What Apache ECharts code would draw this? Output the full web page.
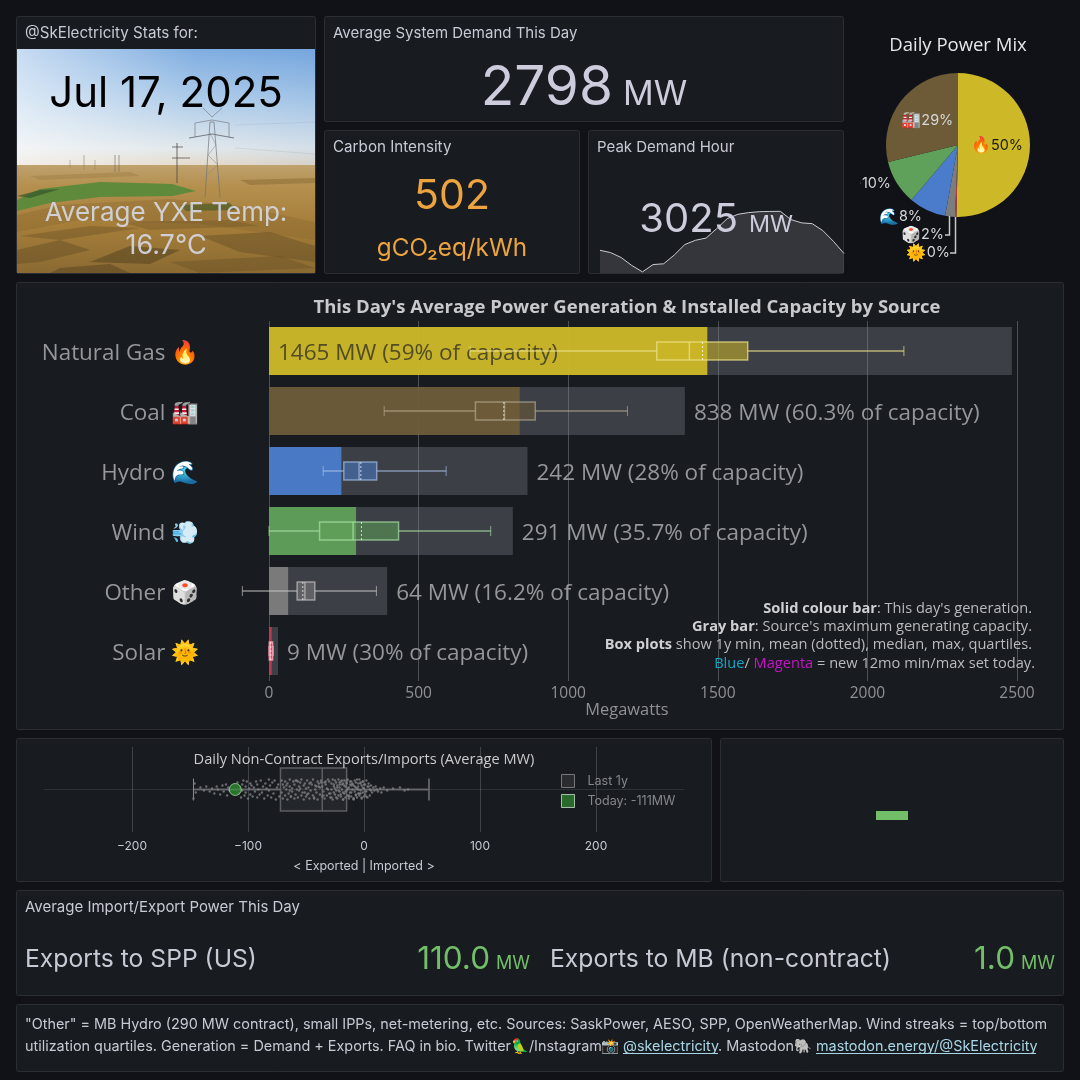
<!DOCTYPE html>
<html>
<head>
<meta charset="utf-8">
<title>SkElectricity daily stats</title>
<script src="https://cdn.jsdelivr.net/npm/echarts@6/dist/echarts.min.js"></script>
<style>
html, body { margin: 0; padding: 0; background: #111217; }
#chart { width: 1080px; height: 1080px; }
</style>
</head>
<body>
<div id="chart"></div>
<script>
// generation panel
var sources = ['Natural Gas', 'Coal', 'Hydro', 'Wind', 'Other', 'Solar'];
var sourceEmoji = ['🔥', '🏭', '🌊', '💨', '🎲', '🌞'];
var generationMw = [1465, 838, 242, 291, 64, 9];
var capacityMw = [2483, 1390, 864, 815, 395, 30];
var capacityPct = ['59', '60.3', '28', '35.7', '16.2', '30'];
var boxMin = [672, 385, 181, 0, -89, 0];
var boxQ1 = [1296, 690, 250, 169, 94, 1];
var boxMedian = [1405, 787, 301, 281, 120, 5];
var boxMean = [1449, 785, 307, 309, 113, 6];
var boxQ3 = [1600, 890, 360, 433, 153, 12];
var boxMax = [2122, 1198, 592, 741, 359, 14];
var genTicks = [0, 500, 1000, 1500, 2000, 2500];

// pie order, clockwise from the top
var pieOrder = [0, 5, 4, 2, 3, 1];

// peak demand sparkline, one value per hour
var demandHours = ['00', '01', '02', '03', '04', '05', '06', '07', '08', '09', '10', '11', '12', '13', '14', '15', '16', '17', '18', '19', '20', '21', '22', '23'];
var demandMw = [2687, 2667, 2624, 2555, 2500, 2563, 2570, 2646, 2737, 2774, 2793, 2875, 2962, 2999, 3014, 3022, 3024, 3025, 2953, 2925, 2918, 2858, 2765, 2659];

// non-contract exports / imports, last year of days
var stripBox = [-147, -72, -36, -15, 56];
var todayMw = -111;
var stripMw = [-147, -146, -145, -141, -138, -136, -133, -131, -129, -127, -126, -124, -122, -121, -119, -118, -117, -116,
    -109, -108, -107, -106, -105, -105, -104, -103, -102, -102, -101, -100, -99, -98, -98, -97, -96, -95, -94, -93, -92, -92, -91, -90, -89, -88, -87, -86, -85, -84, -83, -82, -82, -81, -80, -79, -78, -77, -76, -75, -74, -73,
    -71, -71, -70, -70, -69, -68, -68, -67, -66, -66, -65, -64, -64, -63, -62, -62, -61, -60, -60, -59, -58, -58, -57, -56, -56, -55, -54, -54, -53, -52, -52, -51, -50, -50, -49, -48, -48, -47, -46, -46, -45, -44, -44, -43, -42, -42, -41, -40, -40, -39, -38, -38, -37, -36, -36, -35, -34, -34, -33, -32, -32, -31, -30, -30, -29, -28, -28, -27, -26, -26, -25, -25, -24, -24, -23, -23, -22, -22, -21, -21, -20, -20, -19, -19, -18, -18, -17, -17, -16, -16, -15, -15,
    -14, -14, -13, -13, -12, -12, -11, -11, -10, -10, -9, -9, -8, -8, -7, -7, -6, -6, -5, -5, -4, -4, -3, -3, -2, -2, -1, -1, 0, 0, 1, 1, 2, 2, 3, 3, 4, 5, 5, 6, 7, 8, 9, 10, 11, 12, 14, 15, 17, 20, 25, 31, 35, 38,
    -67, -63, -59, -55, -51, -47, -43, -39, -35, -33, -31, -29, -27, -26, -24, -23, -22, -21, -20, -19, -18, -17, -16, -15, -14, -13, -12, -11, -10, -9, -8, -7, -6, -5, -4, -3, -2, -1, 0, 1,
    -64, -57, -49, -41, -37, -28, -25, -21, -18, -15, -13, -11, -9, -7, -5, -3, -1, 2, 4, 6];
var stripJitter = [-9, 6, -3, 2, -1, 3, -2, 1, -4, 3, 0, -5, 4, -2, 5, -6, 2, -1,
    7, -4, 2, -8, 5, -1, 9, -6, 3, -3, 8, -9, 1, 6, -5, 4, -7, 2, -2, 8, -8, 5, 0, -5, 9, -3, 3, -9, 6, 1, -6, 10, -1, 4, -8, 7, -4, 9, -10, 2, 5, -7,
    -3, 9, 5, -9, 2, -6, 8, 0, -10, 6, -4, 3, 10, -7, 1, -2, 8, -9, 5, -5, 0, 9, -8, 3, -1, 7, -6, 10, -3, 4, -10, 6, 1, -7, 9, -4, 2, -9, 7, -1, 5, -6, 10, -8, 0, 4, -3, 8, -10, 6, -5, 2, 9, -7, 3, -2, 7, -9, 5, 1, -6, 10, -4, 8, -8, 0, 6, -10, 3, -3, 9, -5, 7, -1, 4, -9, 10, -6, 2, -2, 8, -7, 5, 0, -10, 6, -4, 9, -8, 3, -1, 7,
    -6, 10, 2, -9, 5, -3, 8, -7, 0, 6, -10, 4, -2, 9, -5, 7, 1, -8, 3, -4, 10, -6, 6, -1, -9, 4, 8, -3, 1, -7, 5, -5, 9, -2, 3, -8, 6, 0, -6, 4, -3, 2, -1, 3, 0, -2, 1, -3, 2, -1, 1, 2, -1, 0,
    4, -7, 9, 1, -3, 6, -9, 3, -6, 8, 0, -4, 10, 5, -8, 2, -1, 7, -5, 9, -10, 4, -2, 6, 1, -7, 8, -3, 5, -9, 3, -6, 10, 0, -4, 7, -8, 2, 5, -2,
    -1, 8, -5, 3, 7, -8, 1, 5, -3, 9, -6, 4, -9, 2, 6, -4, 8, -7, 3, -1];

// colours per source
var sourceColors = ['#cdb827', '#6d5b38', '#4a7ccb', '#5fa05a', '#7d7d7d', '#c2394e'];
var boxStrokes = ['rgba(238,226,140,.7)', 'rgba(190,180,155,.6)', 'rgba(170,195,235,.65)', 'rgba(175,230,170,.65)', 'rgba(200,200,200,.65)', 'rgba(255,165,185,.85)'];

var uiFont = 'Inter, "Noto Color Emoji", sans-serif';
var chartFont = '"Open Sans", "Noto Color Emoji", sans-serif';
var textColor = '#c7c9d4';

function panel(x, y, w, h) {
    return {
        type: 'rect', z: -5, silent: true,
        shape: { x: x + 0.5, y: y + 0.5, width: w - 1, height: h - 1, r: 2 },
        style: { fill: '#181b1f', stroke: '#2b2e34', lineWidth: 1 }
    };
}

function txt(x, y, text, size, color, align, family, extra) {
    var style = {
        x: x, y: y, text: text, fill: color,
        font: size + 'px ' + (family || uiFont),
        align: align || 'left', verticalAlign: 'middle'
    };
    for (var k in extra || {}) {
        style[k] = extra[k];
    }
    return { type: 'text', z: 20, silent: true, style: style };
}

function poly(z, points, stroke, width) {
    return {
        type: 'polyline', z: z, silent: true,
        shape: { points: points },
        style: { stroke: stroke, lineWidth: width, fill: null }
    };
}

function shape(points, fill, opacity) {
    return {
        type: 'polygon', z: -4, silent: true,
        shape: { points: points },
        style: { fill: fill, opacity: opacity === undefined ? 1 : opacity }
    };
}

// the photo behind the date is only painted roughly
function photo() {
    var LG = echarts.graphic.LinearGradient;
    var els = [
        {
            type: 'rect', z: -4, silent: true,
            shape: { x: 17, y: 49, width: 298, height: 117 },
            style: { fill: new LG(0, 0, 0, 1, [{ offset: 0, color: '#74a6de' }, { offset: 0.45, color: '#a9c9e8' }, { offset: 0.85, color: '#dfe6ea' }, { offset: 1, color: '#e2d6c4' }]) }
        },
        {
            type: 'rect', z: -4, silent: true,
            shape: { x: 17, y: 49, width: 298, height: 117 },
            style: { fill: new LG(0, 0, 1, 0, [{ offset: 0, color: 'rgba(255,255,255,.6)' }, { offset: 0.6, color: 'rgba(255,255,255,.08)' }, { offset: 1, color: 'rgba(120,160,220,.1)' }]) }
        },
        {
            type: 'rect', z: -4, silent: true,
            shape: { x: 17, y: 165, width: 298, height: 108 },
            style: { fill: new LG(0, 0, 0, 1, [{ offset: 0, color: '#bfa26e' }, { offset: 0.2, color: '#b48f4e' }, { offset: 0.55, color: '#a67e3a' }, { offset: 1, color: '#8a6a32' }]) }
        },
        shape([[17, 200], [40, 189], [100, 182], [172, 184], [196, 191], [172, 196], [100, 197], [50, 203], [17, 211]], '#5f8a3c'),
        shape([[17, 196], [40, 190], [60, 189], [30, 198]], '#35552a', 0.7),
        shape([[17, 215], [60, 205], [170, 199], [240, 206], [315, 222], [315, 240], [200, 224], [80, 220], [17, 232]], '#8a6a30', 0.4),
        shape([[90, 262], [130, 246], [180, 250], [150, 264]], '#4f3f1e', 0.5),
        shape([[200, 236], [270, 232], [315, 246], [315, 262], [240, 252]], '#5d4822', 0.4),
        shape([[17, 250], [60, 240], [90, 250], [40, 262], [17, 264]], '#5d4822', 0.4),
        shape([[180, 205], [230, 203], [236, 210], [186, 211]], '#4d5d28', 0.7),
        shape([[20, 236], [90, 226], [140, 228], [60, 240]], '#6a5126', 0.4),
        shape([[120, 222], [230, 220], [260, 226], [150, 230]], '#6a5126', 0.35),
        shape([[170, 262], [280, 256], [315, 268], [200, 273]], '#6a5126', 0.45),
        shape([[60, 268], [110, 264], [130, 273], [50, 273]], '#4f3f1e', 0.45),
        shape([[240, 180], [315, 178], [315, 183], [250, 185]], '#8f7238', 0.6),
        shape([[30, 176], [130, 172], [140, 176], [40, 180]], '#9d7f45', 0.5),
        // main tower
        poly(-4, [[205, 197], [210, 122], [214, 122], [220, 197]], 'rgba(110,113,122,.85)', 0.8),
        poly(-4, [[207, 175], [218, 165], [208, 155], [216, 145], [210, 133]], 'rgba(120,123,132,.75)', 0.6),
        poly(-4, [[195, 137], [195, 123], [212, 120], [229, 123], [229, 137]], 'rgba(125,128,138,.9)', 0.8),
        poly(-4, [[203, 108], [212, 117], [222, 108]], 'rgba(125,128,138,.9)', 0.8),
        poly(-4, [[189, 138], [212, 134], [234, 138]], 'rgba(95,98,106,.9)', 0.9),
        poly(-4, [[235, 125], [315, 122]], 'rgba(120,125,135,.25)', 0.5),
        poly(-4, [[235, 148], [315, 154]], 'rgba(120,125,135,.3)', 0.5),
        // wood poles in the distance
        poly(-4, [[177, 143], [177, 183]], 'rgba(80,72,64,.9)', 0.9),
        poly(-4, [[172, 147], [183, 147]], 'rgba(80,72,64,.9)', 0.8),
        poly(-4, [[172, 158], [190, 158]], 'rgba(80,72,64,.9)', 0.8),
        poly(-4, [[115, 155], [115, 172]], 'rgba(120,110,95,.8)', 0.8),
        poly(-4, [[119, 155], [119, 172]], 'rgba(120,110,95,.8)', 0.8),
        poly(-4, [[84, 155], [84, 170]], 'rgba(135,125,110,.7)', 0.8),
        poly(-4, [[95, 160], [95, 170]], 'rgba(135,125,110,.7)', 0.7),
        poly(-4, [[70, 160], [70, 168]], 'rgba(135,125,110,.7)', 0.7)
    ];
    return els;
}

var boldRich = { b: { fontFamily: 'Open Sans', fontWeight: 'bold', fontSize: 14.6, fill: '#cfd0d3' } };

var graphicEls = [
    panel(16, 16, 300, 258),
    panel(324, 16, 520, 106),
    panel(324, 130, 256, 144),
    panel(588, 130, 256, 144),
    panel(16, 282, 1048, 448),
    panel(16, 738, 696, 144),
    panel(720, 738, 344, 144),
    panel(16, 890, 1048, 106),
    panel(16, 1004, 1048, 68)
].concat(photo()).concat([
    // the small lone bar in the empty panel
    { type: 'rect', z: 5, silent: true, shape: { x: 876, y: 811, width: 32, height: 9 }, style: { fill: '#73bf69' } },

    txt(25, 33.5, '@SkElectricity Stats for:', 15.2, textColor),
    txt(333, 33.5, 'Average System Demand This Day', 15, textColor),
    txt(333, 147.5, 'Carbon Intensity', 15.2, textColor),
    txt(597, 147.5, 'Peak Demand Hour', 15, textColor),
    txt(25, 907.5, 'Average Import/Export Power This Day', 15, textColor),

    txt(166, 94, 'Jul 17, 2025', 42, '#000000', 'center'),
    txt(166, 213, 'Average YXE Temp:', 26, 'rgba(214,216,228,.9)', 'center'),
    txt(166, 246, '16.7°C', 27, 'rgba(214,216,228,.9)', 'center'),

    txt(613, 88, '2798', 55, '#ccccdc', 'right'),
    txt(623, 95, 'MW', 34, '#ccccdc'),
    txt(452, 197, '502', 41, '#eda33f', 'center'),
    txt(452, 249, 'gCO₂eq/kWh', 24.3, '#eda33f', 'center'),
    txt(738, 220, '3025', 40, '#ccccdc', 'right'),
    txt(749, 225, 'MW', 23.3, '#ccccdc'),

    txt(25, 960, 'Exports to SPP (US)', 24.7, textColor),
    txt(490, 960, '110.0', 31.5, '#73bf69', 'right'),
    txt(496, 964, 'MW', 18, '#73bf69'),
    txt(550, 960, 'Exports to MB (non-contract)', 24.7, textColor),
    txt(1015, 960, '1.0', 31.5, '#73bf69', 'right'),
    txt(1021, 964, 'MW', 18, '#73bf69'),

    txt(25, 1025, '"Other" = MB Hydro (290 MW contract), small IPPs, net-metering, etc. Sources: SaskPower, AESO, SPP, OpenWeatherMap. Wind streaks = top/bottom', 14.4, textColor),
    txt(25, 1047, 'utilization quartiles. Generation = Demand + Exports. FAQ in bio. Twitter🦜/Instagram📸', 14.4, textColor),
    txt(623, 1047, '@skelectricity', 14.4, '#a9d6e5'),
    txt(718, 1047, '. Mastodon🐘', 14.4, textColor),
    txt(816, 1047, 'mastodon.energy/@SkElectricity', 14.4, '#a9d6e5'),
    poly(20, [[623, 1053.5], [718, 1053.5]], '#a9d6e5', 1),
    poly(20, [[816, 1053.5], [1036, 1053.5]], '#a9d6e5', 1),

    // key under the bars
    txt(1032, 609, '{b|Solid colour bar}: This day\'s generation.', 14.6, '#b9babd', 'right', chartFont, { rich: boldRich }),
    txt(1032, 627, '{b|Gray bar}: Source\'s maximum generating capacity.', 14.6, '#b9babd', 'right', chartFont, { rich: boldRich }),
    txt(1032, 645, '{b|Box plots} show 1y min, mean (dotted), median, max, quartiles.', 14.6, '#b9babd', 'right', chartFont, { rich: boldRich }),
    txt(1035, 664, '{c|Blue}/ {m|Magenta} = new 12mo min/max set today.', 14.6, '#b9babd', 'right', chartFont, { rich: { c: { fontFamily: 'Open Sans', fontSize: 14.6, fill: '#17a5c6' }, m: { fontFamily: 'Open Sans', fontSize: 14.6, fill: '#c514c5' } } }),
    txt(627, 710, 'Megawatts', 16.4, '#8f9195', 'center', chartFont),
    txt(364, 866, '< Exported | Imported >', 12.5, textColor, 'center'),

    // pie leader lines, and the page edge that cuts the wind label
    poly(20, [[949.5, 216], [949.5, 235], [945, 235]], '#c8c8c8', 1.5),
    poly(20, [[955.5, 217], [955.5, 253], [950, 253]], '#c8c8c8', 1.5),
    { type: 'rect', z: 20, silent: true, shape: { x: 845, y: 170, width: 15, height: 30 }, style: { fill: '#111217' } }
]);

function boxItem(params, api) {
    var i = api.value(6);
    var y = api.coord([0, i])[1];
    var x = [0, 1, 2, 3, 4, 5].map(function (n) { return api.coord([api.value(n), i])[0]; });
    var h = 18;
    var stroke = boxStrokes[i];
    var line = { stroke: stroke, lineWidth: 1.5 };
    function seg(x1, y1, x2, y2, style) {
        return { type: 'line', shape: { x1: x1, y1: y1, x2: x2, y2: y2 }, style: style };
    }
    return {
        type: 'group',
        children: [
            seg(x[0], y, x[1], y, line),
            seg(x[4], y, x[5], y, line),
            seg(x[0], y - 5, x[0], y + 5, { stroke: stroke, lineWidth: 1 }),
            seg(x[5], y - 5, x[5], y + 5, { stroke: stroke, lineWidth: 1 }),
            {
                type: 'rect',
                shape: { x: x[1], y: y - h / 2, width: x[4] - x[1], height: h },
                style: { fill: echarts.color.modifyAlpha(sourceColors[i], 0.55), stroke: stroke, lineWidth: 1.5 }
            },
            seg(x[2], y - h / 2, x[2], y + h / 2, line),
            seg(x[3], y - h / 2, x[3], y + h / 2, { stroke: 'rgba(255,255,255,.7)', lineWidth: 1, lineDash: [2, 2] })
        ]
    };
}

function stripBoxItem(params, api) {
    var y = api.coord([0, 0])[1];
    var x = [0, 1, 2, 3, 4].map(function (n) { return api.coord([api.value(n), 0])[0]; });
    var stroke = '#5c5e63';
    function seg(x1, y1, x2, y2, width, color) {
        return { type: 'line', shape: { x1: x1, y1: y1, x2: x2, y2: y2 }, style: { stroke: color || stroke, lineWidth: width } };
    }
    return {
        type: 'group',
        children: [
            {
                type: 'rect',
                shape: { x: x[1], y: y - 21.5, width: x[3] - x[1], height: 43 },
                style: { fill: 'rgba(255,255,255,.05)', stroke: stroke, lineWidth: 1.5 }
            },
            seg(x[0], y, x[1], y, 2),
            seg(x[3], y, x[4], y, 2),
            seg(x[0], y - 11, x[0], y + 11, 1, '#8a8c90'),
            seg(x[4], y - 11, x[4], y + 11, 2),
            seg(x[2], y - 21.5, x[2], y + 21.5, 1.5)
        ]
    };
}

var chart = echarts.init(document.getElementById('chart'));

var option = {
    backgroundColor: '#111217',
    animation: false,
    title: [
        {
            text: "This Day's Average Power Generation & Installed Capacity by Source",
            left: 622, top: 293, textAlign: 'center',
            textStyle: { fontFamily: 'Open Sans', fontWeight: 'bold', fontSize: 18.5, color: '#c8c9cc' }
        },
        {
            text: 'Daily Power Mix',
            left: 953, top: 31, textAlign: 'center',
            textStyle: { fontFamily: 'Open Sans', fontWeight: 'normal', fontSize: 18.5, color: '#e6e6e8' }
        },
        {
            text: 'Daily Non-Contract Exports/Imports (Average MW)',
            left: 359, top: 747, textAlign: 'center',
            textStyle: { fontFamily: 'Open Sans', fontWeight: 'normal', fontSize: 14.6, color: '#c9cacc' }
        }
    ],
    legend: {
        left: 556, top: 769, orient: 'vertical', itemWidth: 13, itemHeight: 13, itemGap: 6,
        selectedMode: false,
        textStyle: { fontFamily: 'Inter', fontSize: 12.5, color: '#85878b', padding: [0, 0, 0, 8] },
        data: [
            { name: 'Last 1y', icon: 'rect', itemStyle: { color: '#2b2c30', borderColor: '#75777b', borderWidth: 1 } },
            { name: 'Today: -111MW', icon: 'rect', itemStyle: { color: '#2f7d2f', borderColor: '#c9dec9', borderWidth: 1 } }
        ]
    },
    grid: [
        { left: 269, top: 321, width: 748, height: 360 },
        { left: 16, top: 747, width: 696, height: 85 },
        { left: 600, top: 190, width: 244, height: 83 }
    ],
    xAxis: [
        {
            gridIndex: 0, type: 'value', min: genTicks[0], max: genTicks[genTicks.length - 1], interval: 500,
            axisLine: { show: false }, axisTick: { show: false },
            axisLabel: {
                fontFamily: 'Open Sans', fontSize: 15.5, color: '#8f9195', margin: 5,
                formatter: function (v) { return String(v); }
            },
            splitLine: { lineStyle: { color: 'rgba(150,152,158,.42)', width: 1 } }
        },
        {
            gridIndex: 1, type: 'value', min: -300, max: 300, interval: 100,
            axisLine: { show: false }, axisTick: { show: false },
            axisLabel: {
                showMinLabel: false, showMaxLabel: false, margin: 8,
                fontFamily: 'Inter', fontSize: 12, color: '#c7c9d4',
                formatter: function (v) { return String(v).replace('-', '−'); }
            },
            splitLine: { showMinLine: false, showMaxLine: false, lineStyle: { color: 'rgba(150,152,158,.32)', width: 1 } }
        },
        {
            gridIndex: 2, type: 'category', data: demandHours, boundaryGap: false,
            axisLine: { show: false }, axisTick: { show: false }, axisLabel: { show: false }, splitLine: { show: false }
        }
    ],
    yAxis: [
        {
            gridIndex: 0, type: 'category', inverse: true,
            data: sources.map(function (s, i) { return s + ' ' + sourceEmoji[i]; }),
            axisLine: { show: false }, axisTick: { show: false },
            axisLabel: {
                margin: 70,
                formatter: function (v) { return '{l|' + v + '}'; },
                rich: { l: { fontFamily: chartFont, fontSize: 22.4, color: '#95979b', padding: [5, 0, 0, 0] } }
            }
        },
        {
            gridIndex: 1, type: 'value', min: -42.5, max: 42.5,
            axisLine: { show: false }, axisTick: { show: false }, axisLabel: { show: false }, splitLine: { show: false }
        },
        {
            gridIndex: 2, type: 'value', min: 2490, max: 3210,
            axisLine: { show: false }, axisTick: { show: false }, axisLabel: { show: false }, splitLine: { show: false }
        }
    ],
    series: [
        {
            name: 'Installed capacity', type: 'bar', xAxisIndex: 0, yAxisIndex: 0,
            barWidth: 48, barGap: '-100%',
            itemStyle: { color: 'rgba(130,133,140,.35)' },
            data: capacityMw.map(function (v, i) {
                return {
                    value: v,
                    label: {
                        show: i > 0, position: 'right', distance: 9, offset: [0, 2.5],
                        fontFamily: chartFont, fontSize: 22.5, color: '#94969a',
                        formatter: generationMw[i] + ' MW (' + capacityPct[i] + '% of capacity)'
                    }
                };
            })
        },
        {
            name: 'Generation', type: 'bar', xAxisIndex: 0, yAxisIndex: 0,
            barWidth: 48, barGap: '-100%',
            data: generationMw.map(function (v, i) {
                return {
                    value: v,
                    itemStyle: { color: sourceColors[i], opacity: 0.95 },
                    label: {
                        show: i === 0, position: 'insideLeft', distance: 9, offset: [0, 2.5],
                        fontFamily: chartFont, fontSize: 22.5, color: '#4b4725',
                        formatter: v + ' MW (' + capacityPct[i] + '% of capacity)'
                    }
                };
            })
        },
        {
            name: 'Box plots', type: 'custom', xAxisIndex: 0, yAxisIndex: 0, z: 4,
            renderItem: boxItem,
            encode: { x: [0, 1, 2, 3, 4, 5], y: 6 },
            data: sources.map(function (s, i) {
                return [boxMin[i], boxQ1[i], boxMedian[i], boxMean[i], boxQ3[i], boxMax[i], i];
            })
        },
        {
            name: 'Power mix', type: 'pie',
            center: [958, 145], radius: 72, startAngle: 90, clockwise: true, z: 3,
            label: { fontFamily: uiFont, fontSize: 14.4, color: '#d6d7da' },
            labelLine: { show: false },
            data: pieOrder.map(function (i) {
                return {
                    name: sources[i],
                    value: generationMw[i],
                    itemStyle: { color: sourceColors[i] },
                    label: {
                        position: i < 2 ? 'inside' : 'outside',
                        color: i === 0 ? '#1a1a12' : '#d6d7da',
                        rich: { e: { fontFamily: chartFont, fontSize: i === 3 ? 14 : 16 } },
                        formatter: function (p) { return '{e|' + sourceEmoji[i] + '}' + Math.round(p.percent) + '%'; }
                    }
                };
            }),
            labelLayout: function (p) {
                // wind, hydro, other and solar labels sit below the pie
                var spots = { 1: [950, 253], 2: [944, 235], 3: [922, 217], 4: [891, 184] };
                var spot = spots[p.dataIndex];
                return spot ? { x: spot[0], y: spot[1], align: 'right', verticalAlign: 'middle' } : {};
            }
        },
        {
            name: 'Last 1y', type: 'custom', xAxisIndex: 1, yAxisIndex: 1, z: 2,
            renderItem: stripBoxItem,
            encode: { x: [0, 1, 2, 3, 4] },
            data: [stripBox],
            markLine: {
                silent: true, symbol: 'none', label: { show: false },
                lineStyle: { color: 'rgba(150,152,158,.18)', type: 'solid', width: 1 },
                data: [[{ coord: [-276, 0] }, { coord: [276, 0] }]]
            }
        },
        {
            name: 'Days', type: 'scatter', xAxisIndex: 1, yAxisIndex: 1, z: 3,
            symbolSize: 2.4,
            itemStyle: { color: '#7e7f82' },
            data: stripMw.map(function (v, i) { return [v, stripJitter[i]]; })
        },
        {
            name: 'Today: -111MW', type: 'scatter', xAxisIndex: 1, yAxisIndex: 1, z: 4,
            symbolSize: 12,
            itemStyle: { color: '#2f8a2f', borderColor: '#a9d6a9', borderWidth: 1 },
            data: [[todayMw, 0]]
        },
        {
            name: 'Demand', type: 'line', xAxisIndex: 2, yAxisIndex: 2, z: 3,
            showSymbol: false, smooth: false,
            lineStyle: { color: '#c9cbd0', width: 1 },
            areaStyle: { color: 'rgba(125,127,134,.4)', origin: 'start' },
            data: demandMw
        }
    ],
    graphic: { elements: graphicEls }
};

chart.setOption(option);
</script>
</body>
</html>
